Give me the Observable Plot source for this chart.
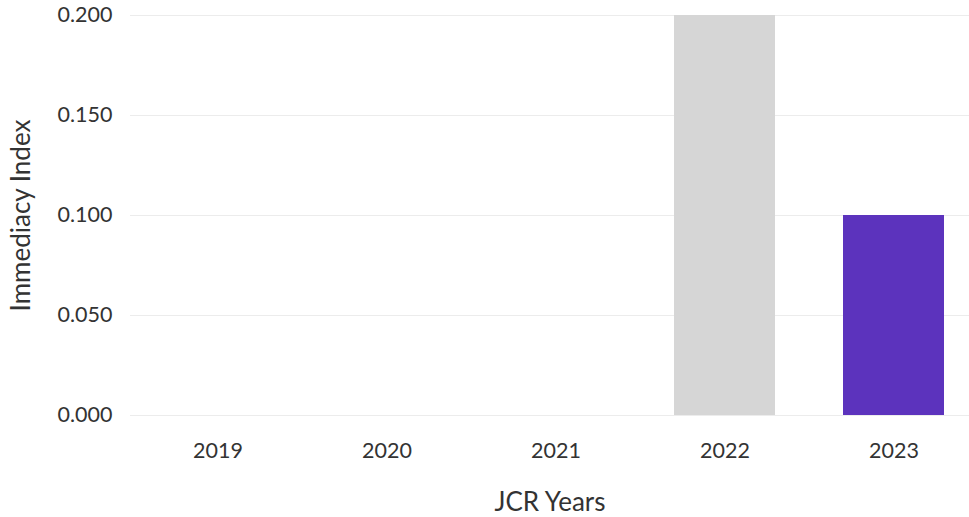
<!DOCTYPE html>
<html>
<head>
<meta charset="utf-8">
<script src="https://cdn.jsdelivr.net/npm/d3@7"></script>
<script src="https://cdn.jsdelivr.net/npm/@observablehq/plot@0.6"></script>
<style>
  html, body { margin: 0; padding: 0; background: #fff; overflow: hidden; }
  svg { display: block; }
  g[aria-label="x-axis tick label"] text, g[aria-label="y-axis tick label"] text { font-size: 21.5px !important; }
  g[aria-label="x-axis label"] text, g[aria-label="y-axis label"] text { font-size: 26px !important; }
</style>
</head>
<body>
<div id="chart"></div>
<script>
const years = ["2019", "2020", "2021", "2022", "2023"];
const values = [0, 0, 0, 0.2, 0.1];
const yTicks = [0, 0.05, 0.1, 0.15, 0.2];
const currentYear = "2023";

const data = years.map((year, i) => ({year, value: values[i]}));
const font = "Lato, 'Open Sans', sans-serif";

const chart = Plot.plot({
  width: 969,
  height: 517,
  marginTop: 15,
  marginBottom: 102,
  marginLeft: 130,
  marginRight: 0,
  style: {fontFamily: font, fontSize: "20px", color: "#333", background: "#fff"},
  x: {domain: years, paddingInner: 0.4, paddingOuter: 0.18, align: 0.6},
  y: {domain: [0, 0.2]},
  marks: [
    Plot.gridY(yTicks, {stroke: "#ececec", strokeOpacity: 1, strokeWidth: 1}),
    Plot.barY(data, {
      x: "year",
      y: "value",
      fill: d => d.year === currentYear ? "#5c33bd" : "#d6d6d6"
    }),
    Plot.axisY(yTicks, {
      tickSize: 0,
      tickPadding: 18,
      tickFormat: d3.format(".3f"),
      label: "Immediacy Index",
      labelAnchor: "center",
      labelArrow: "none",
      labelOffset: 119
    }),
    Plot.axisX({
      tickSize: 0,
      tickPadding: 27,
      label: "JCR Years",
      labelAnchor: "center",
      labelArrow: "none",
      labelOffset: 95
    })
  ]
});

document.getElementById("chart").appendChild(chart);
</script>
</body>
</html>
